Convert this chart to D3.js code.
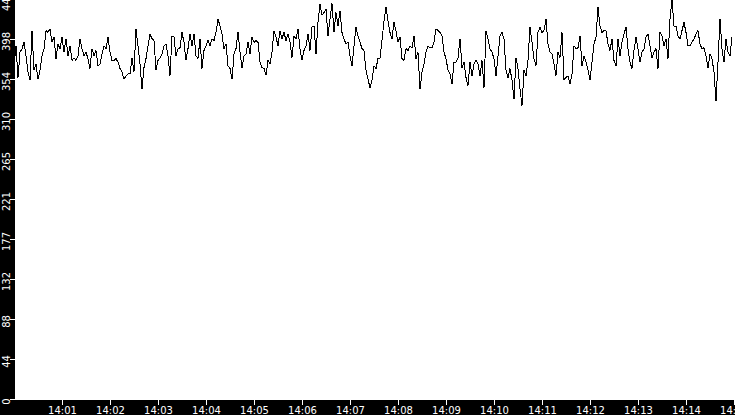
<!DOCTYPE html>
<html><head><meta charset="utf-8">
<script src="https://cdn.jsdelivr.net/npm/d3@7"></script>
<style>html,body{margin:0;padding:0;background:#000;overflow:hidden}</style>
</head><body><svg id="c" width="735" height="415"></svg>
<script>
const startTime = "14:00:00";
const endTime = "14:15:00";
const stepSeconds = 2.5;
const xTickLabels = ["14:01","14:02","14:03","14:04","14:05","14:06","14:07","14:08","14:09","14:10","14:11","14:12","14:13","14:14","14:15"];
const yMax = 443;
const yTickLabels = ["0","44","88","132","177","221","265","310","354","398","443"];
const values = [
 369,391,356,384,388,395,380,362,353,408,364,371,354,364,380,388,408,406,410,395,401,377,393,388,401,384,399,380,391,375,378,375,380,399,388,380,384,377,366,388,
 380,386,369,371,382,391,388,401,384,375,375,377,373,366,362,354,358,360,360,378,362,410,391,371,343,367,377,391,404,399,397,364,375,378,382,391,393,380,358,402,
 401,380,388,389,406,395,375,388,404,391,404,380,377,399,366,386,391,397,391,399,397,406,421,413,404,388,393,369,366,354,382,388,406,384,367,380,382,395,382,401,
 395,397,395,373,367,366,359,375,371,384,408,401,391,408,399,406,397,404,395,378,402,399,410,388,375,386,391,404,386,412,413,382,417,437,425,428,432,402,421,438,
 406,428,413,430,406,399,393,395,380,369,391,412,402,395,388,386,364,354,345,353,369,366,377,377,397,419,434,419,406,399,417,408,395,401,377,375,388,386,391,389,
 402,377,384,343,362,371,384,391,389,389,395,410,408,406,402,384,377,364,360,349,373,373,378,399,367,373,356,347,373,358,371,375,371,358,375,345,408,399,388,384,
 377,358,380,402,406,399,364,356,366,353,332,378,366,343,325,364,358,375,412,395,377,369,406,412,406,408,421,393,384,382,371,358,384,378,406,354,356,358,349,360,
 391,388,389,402,369,380,373,364,353,373,393,401,434,413,406,408,408,393,386,399,375,369,399,380,395,404,412,388,373,366,386,401,388,373,384,388,401,404,391,378,
 384,388,366,406,402,391,399,377,421,443,413,413,402,399,408,417,406,391,391,395,399,404,408,393,388,389,380,367,382,377,362,330,373,421,388,373,399,384,380,401
];

const W = 735, H = 415, plotLeft = 15, plotBottom = 400;
const parseT = d3.timeParse("%H:%M:%S");
const parseM = d3.timeParse("%H:%M");
const t0 = parseT(startTime), t1 = parseT(endTime);
const data = values.map((v, i) => ({t: new Date(t0.getTime() + i * stepSeconds * 1000), v}));

const x = d3.scaleTime().domain([t0, t1]).range([14, 734]);
const y = d3.scaleLinear().domain([0, yMax]).range([399, -1]);

const svg = d3.select("#c");
svg.append("rect").attr("width", W).attr("height", H).attr("fill", "#000");
svg.append("rect").attr("x", plotLeft).attr("y", 0).attr("width", W - plotLeft).attr("height", plotBottom).attr("fill", "#fff");

svg.append("clipPath").attr("id", "clip").append("rect")
  .attr("x", plotLeft).attr("y", 0).attr("width", W - plotLeft).attr("height", plotBottom);

svg.append("path").datum(data)
  .attr("clip-path", "url(#clip)")
  .attr("fill", "none").attr("stroke", "#000").attr("stroke-width", 1)
  .attr("shape-rendering", "crispEdges")
  .attr("d", d3.line().x(d => x(d.t)).y(d => y(d.v)));

const xAxis = d3.axisBottom(x)
  .tickValues(xTickLabels.map(s => parseM(s)))
  .tickFormat(d3.timeFormat("%H:%M"))
  .tickSize(5).tickPadding(2);
const gx = svg.append("g").attr("transform", `translate(0,${plotBottom})`).call(xAxis);

const yAxis = d3.axisLeft(y)
  .tickValues(yTickLabels.map((_, i) => yMax * i / 10))
  .tickFormat((d, i) => yTickLabels[i])
  .tickSize(5);
const gy = svg.append("g").attr("transform", `translate(${plotLeft},0)`).call(yAxis);

[gx, gy].forEach(g => {
  g.select(".domain").remove();
  g.selectAll(".tick line").attr("stroke", "#fff").attr("shape-rendering", "crispEdges");
  g.selectAll(".tick text").attr("fill", "#fff")
    .style("font-family", "'DejaVu Sans', sans-serif").style("font-size", "10px");
});
gy.selectAll(".tick text")
  .attr("transform", "rotate(-90)")
  .attr("x", -2).attr("y", -5.5).attr("dy", 0)
  .attr("text-anchor", "middle");
</script></body></html>
